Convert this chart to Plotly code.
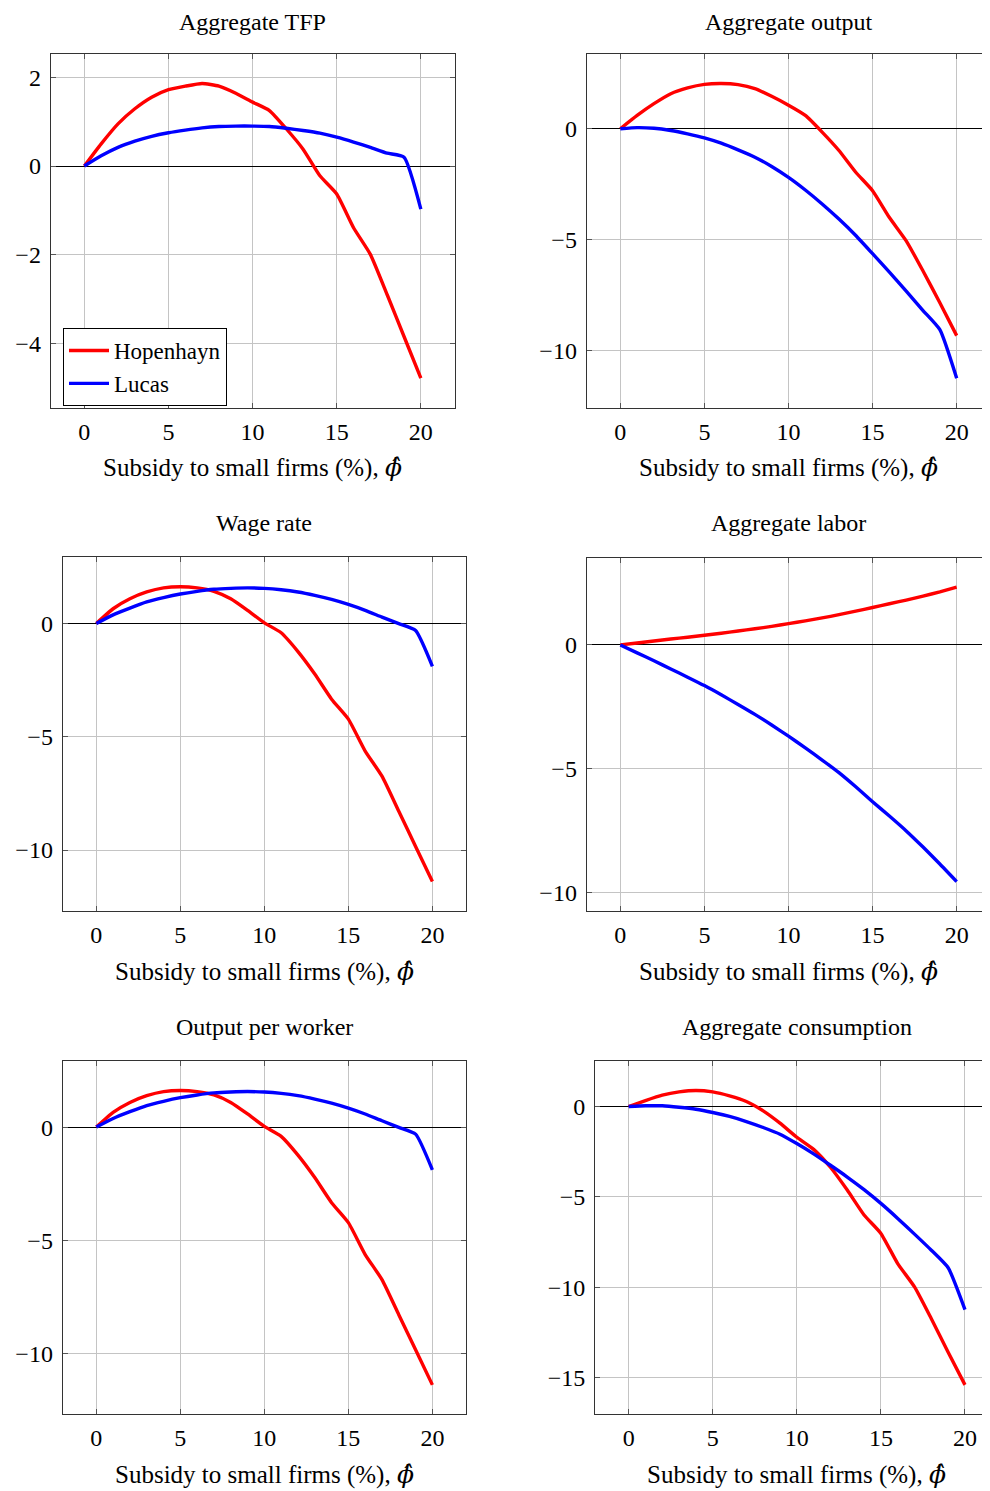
import plotly.graph_objects as go

PAGE_W, PAGE_H = 990, 1491
OFF = 8  # default body margin of the html page
W, H = PAGE_W - OFF, PAGE_H - OFF

subsidy = list(range(0, 21))

tfp_hopenhayn = [0, 0.50, 0.95, 1.29, 1.55, 1.72, 1.80, 1.86, 1.80, 1.64, 1.44, 1.25, 0.84, 0.38, -0.22, -0.63, -1.39, -1.99, -2.90, -3.84, -4.78]
tfp_lucas = [0, 0.23, 0.42, 0.56, 0.67, 0.75, 0.81, 0.86, 0.89, 0.90, 0.90, 0.89, 0.85, 0.80, 0.74, 0.65, 0.54, 0.42, 0.29, 0.20, -0.97]

output_hopenhayn = [0, 0.60, 1.13, 1.58, 1.84, 2.00, 2.04, 1.99, 1.81, 1.46, 1.06, 0.60, -0.15, -0.98, -1.96, -2.79, -4.00, -5.05, -6.41, -7.84, -9.32]
output_lucas = [0, 0.05, 0.02, -0.08, -0.23, -0.41, -0.65, -0.95, -1.28, -1.70, -2.19, -2.76, -3.39, -4.07, -4.81, -5.63, -6.46, -7.32, -8.19, -9.05, -11.24]

wage_hopenhayn = [0, 0.65, 1.09, 1.39, 1.57, 1.62, 1.57, 1.42, 1.09, 0.58, 0.03, -0.41, -1.24, -2.23, -3.34, -4.22, -5.63, -6.74, -8.29, -9.84, -11.39]
wage_lucas = [0, 0.38, 0.68, 0.95, 1.14, 1.30, 1.42, 1.51, 1.55, 1.57, 1.55, 1.49, 1.39, 1.24, 1.06, 0.84, 0.58, 0.28, -0.01, -0.31, -1.89]

labor_hopenhayn = [0, 0.08, 0.16, 0.24, 0.31, 0.39, 0.47, 0.56, 0.65, 0.75, 0.86, 0.97, 1.09, 1.22, 1.36, 1.51, 1.66, 1.81, 1.97, 2.14, 2.33]
labor_lucas = [0, -0.32, -0.64, -0.97, -1.30, -1.64, -2.01, -2.40, -2.80, -3.23, -3.68, -4.15, -4.64, -5.15, -5.72, -6.32, -6.90, -7.50, -8.15, -8.83, -9.54]

opw_hopenhayn = [0, 0.65, 1.09, 1.39, 1.57, 1.62, 1.57, 1.42, 1.09, 0.58, 0.03, -0.41, -1.24, -2.23, -3.34, -4.22, -5.63, -6.74, -8.29, -9.84, -11.39]
opw_lucas = [0, 0.38, 0.68, 0.95, 1.14, 1.30, 1.42, 1.51, 1.55, 1.57, 1.55, 1.49, 1.39, 1.24, 1.06, 0.84, 0.58, 0.28, -0.01, -0.31, -1.89]

cons_hopenhayn = [0, 0.33, 0.63, 0.81, 0.89, 0.81, 0.59, 0.28, -0.24, -0.92, -1.70, -2.37, -3.36, -4.62, -6.00, -7.02, -8.69, -9.98, -11.74, -13.59, -15.40]
cons_lucas = [0, 0.04, 0.04, -0.04, -0.15, -0.33, -0.55, -0.83, -1.16, -1.53, -2.05, -2.62, -3.25, -3.90, -4.60, -5.36, -6.19, -7.06, -7.95, -8.92, -11.24]

titles = ["Aggregate TFP", "Aggregate output", "Wage rate", "Aggregate labor",
          "Output per worker", "Aggregate consumption"]
x_ticks = [0, 5, 10, 15, 20]
y_ticks = [[-4, -2, 0, 2], [-10, -5, 0], [-10, -5, 0], [-10, -5, 0], [-10, -5, 0], [-15, -10, -5, 0]]
x_label = ("Subsidy to small firms (%), "
           "<span style=\"font-family:'DejaVu Serif'\"><i>ϕ̂</i></span>")
series = [(tfp_hopenhayn, tfp_lucas), (output_hopenhayn, output_lucas),
          (wage_hopenhayn, wage_lucas), (labor_hopenhayn, labor_lucas),
          (opw_hopenhayn, opw_lucas), (cons_hopenhayn, cons_lucas)]

# panel frames in page pixels: left, right, top, bottom
frames = [(50.7, 454.5, 54, 407.7), (586.7, 990.3, 54, 407.7),
          (62.7, 466.0, 557.3, 911), (586.7, 990.3, 557.7, 911),
          (62.7, 466.0, 1061, 1414.3), (595.0, 998.6, 1061, 1414.3)]
title_y = [19, 19, 523, 523, 1027, 1027]
xlabel_y = [467, 467, 971, 971, 1474, 1474]

FONT = "Liberation Serif"
fig = go.Figure()
annotations = []
for i, ((hop, luc), (l, r, t, b)) in enumerate(zip(series, frames)):
    l, r, t, b = l - OFF, r - OFF, t - OFF, b - OFF
    k = "" if i == 0 else str(i + 1)
    xa, ya = "x" + k, "y" + k
    fig.add_trace(go.Scatter(x=subsidy, y=hop, mode="lines", name="Hopenhayn",
                             line=dict(color="#ff0000", width=3.4, shape="spline", smoothing=0.5),
                             xaxis=xa, yaxis=ya, showlegend=(i == 0)))
    fig.add_trace(go.Scatter(x=subsidy, y=luc, mode="lines", name="Lucas",
                             line=dict(color="#0000ff", width=3.4, shape="spline", smoothing=0.5),
                             xaxis=xa, yaxis=ya, showlegend=(i == 0)))
    unit = (r - l) / 24.0
    right_px = min(r, W)
    xmax = -2 + (right_px - l) / unit
    lo = min(min(hop), min(luc)); hi = max(max(hop), max(luc))
    pad = 0.1 * (hi - lo)
    common = dict(showline=True, linecolor="#333333", linewidth=1,
                  showgrid=True, gridcolor="#c4c4c4", gridwidth=1,
                  ticks="inside", ticklen=5, tickcolor="#555555", tickwidth=1,
                  tickfont=dict(family=FONT, size=24, color="black"))
    fig.layout["xaxis" + k] = dict(common, domain=[l / W, right_px / W], range=[-2, xmax],
                                   tickvals=x_ticks, zeroline=False, anchor=ya,
                                   mirror="ticks", ticklabelstandoff=2)
    fig.layout["yaxis" + k] = dict(common, domain=[1 - b / H, 1 - t / H], range=[lo - pad, hi + pad],
                                   tickvals=y_ticks[i], zeroline=True, zerolinecolor="black",
                                   zerolinewidth=1, anchor=xa,
                                   mirror=("ticks" if r <= W + 1 else False),
                                   tickformat="d", ticklabelstandoff=4)
    cx = (l + r) / 2
    if i < 2:
        title_pos = dict(y=1.0, yanchor="top", borderpad=0)
    else:
        title_pos = dict(y=1 - (title_y[i] - OFF) / H, yanchor="middle")
    annotations.append(dict(text=titles[i], x=cx / W, xref="paper", yref="paper",
                            showarrow=False, xanchor="center",
                            font=dict(family=FONT, size=24, color="black"), **title_pos))
    annotations.append(dict(text=x_label, x=cx / W, y=1 - (xlabel_y[i] - OFF) / H,
                            xref="paper", yref="paper",
                            showarrow=False, xanchor="center", yanchor="middle",
                            font=dict(family=FONT, size=25, color="black")))

fig.update_layout(
    width=W, height=H, margin=dict(l=0, r=0, t=0, b=0),
    paper_bgcolor="white", plot_bgcolor="white",
    annotations=annotations,
    showlegend=True,
    legend=dict(x=(63 - OFF) / W, y=1 - (328 - OFF) / H, xanchor="left", yanchor="top",
                bgcolor="white", bordercolor="black", borderwidth=1,
                font=dict(family=FONT, size=23, color="black"),
                itemwidth=40, tracegroupgap=0),
)
fig.write_html("out.html")
